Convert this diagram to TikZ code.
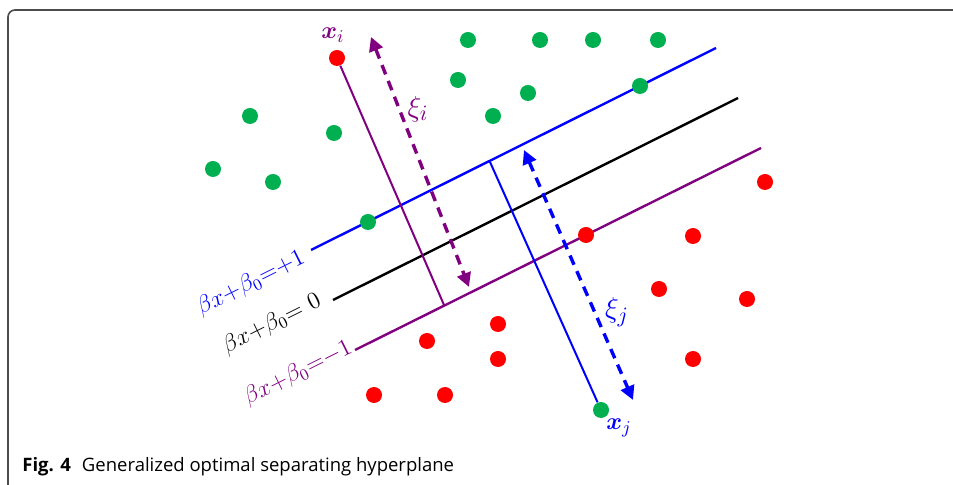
\documentclass[tikz,border=0pt]{standalone}
\usepackage{fontspec}
\setsansfont{Open Sans}
\usepackage{amsmath,bm}
\usetikzlibrary{arrows.meta}

\definecolor{ptgreen}{RGB}{0,176,80}
\definecolor{ptred}{RGB}{255,0,0}
\definecolor{hpurple}{RGB}{128,0,128}
\definecolor{hblue}{RGB}{0,0,255}

\begin{document}
\begin{tikzpicture}[x=0.5pt, y=-0.5pt, >={Triangle[length=7pt,width=7pt]},
  greenpt/.style={circle, fill=ptgreen, inner sep=0pt, minimum size=8pt},
  redpt/.style={circle, fill=ptred, inner sep=0pt, minimum size=8pt},
  plane/.style={line width=1.2pt},
  margin/.style={line width=1.7pt, dashed, dash pattern=on 5pt off 3.5pt},
  eq/.style={font=\fontsize{12}{14}\selectfont, rotate=26.5, inner sep=0pt},
  lab/.style={font=\fontsize{13}{15}\selectfont, inner sep=1pt}]
  \useasboundingbox (0,0) rectangle (953,485);
  % frame
  \draw[line width=0.8pt, gray!60!black, rounded corners=3.5pt]
    (953,10) -- (8,10) -- (8,485);
  % hyperplanes
  \coordinate (b1) at (311,250); \coordinate (b2) at (716,48);
  \coordinate (k1) at (333,300); \coordinate (k2) at (738,98);
  \coordinate (p1) at (355,350); \coordinate (p2) at (761,148);
  \draw[plane, hblue] (b1) -- (b2);
  \draw[plane, black] (k1) -- (k2);
  \draw[plane, hpurple] (p1) -- (p2);
  \node[eq, hblue] (eqb) at (251,283) {$\beta x{+}\beta_0{=}{+}1$};
  \node[eq, black] (eqk) at (272,324) {$\beta x{+}\beta_0{=}\ 0$};
  \node[eq, hpurple] (eqp) at (298,373) {$\beta x{+}\beta_0{=}{-}1$};
  % slack of x_i and x_j
  \node[redpt] (xi) at (337,58) {};
  \node[greenpt] (xj) at (601,410) {};
  \coordinate (fi) at (444,305);
  \coordinate (fj) at (490,162);
  \draw[line width=1pt, hpurple] (xi) -- (fi);
  \draw[line width=1pt, hblue] (fj) -- (xj);
  \coordinate (ai1) at (371,37); \coordinate (ai2) at (469,287);
  \coordinate (aj1) at (524,150); \coordinate (aj2) at (633,400);
  \draw[margin, hpurple, <->] (ai1) -- (ai2);
  \draw[margin, hblue, <->] (aj1) -- (aj2);
  \node[lab, hpurple] (xil) at (333,35) {$\bm{x}_i$};
  \node[lab, hblue] (xjl) at (619,428) {$\bm{x}_j$};
  \node[lab, hpurple, font=\fontsize{15}{17}\selectfont] (xii) at (418,109) {$\xi_i$};
  \node[lab, hblue, font=\fontsize{15}{17}\selectfont] (xij) at (617,312) {$\xi_j$};
  % class +1
  \foreach \p in {(468,40),(540,40),(593,40),(658,40),(458,80),(528,93),
    (493,116),(640,86),(250,116),(334,133),(213,169),(273,182),(368,222)}
    \node[greenpt] at \p {};
  % class -1
  \foreach \p in {(765,182),(586,235),(693,236),(659,289),(747,299),
    (498,324),(427,341),(498,359),(693,359),(374,395),(445,395)}
    \node[redpt] at \p {};
  % caption
  \node[anchor=base west, font=\sffamily\fontsize{9.25}{11}\selectfont,
    inner sep=0pt] (cap) at (22,472)
    {\textbf{Fig. 4}\hspace{0.6em}Generalized optimal separating hyperplane};
\end{tikzpicture}
\end{document}
